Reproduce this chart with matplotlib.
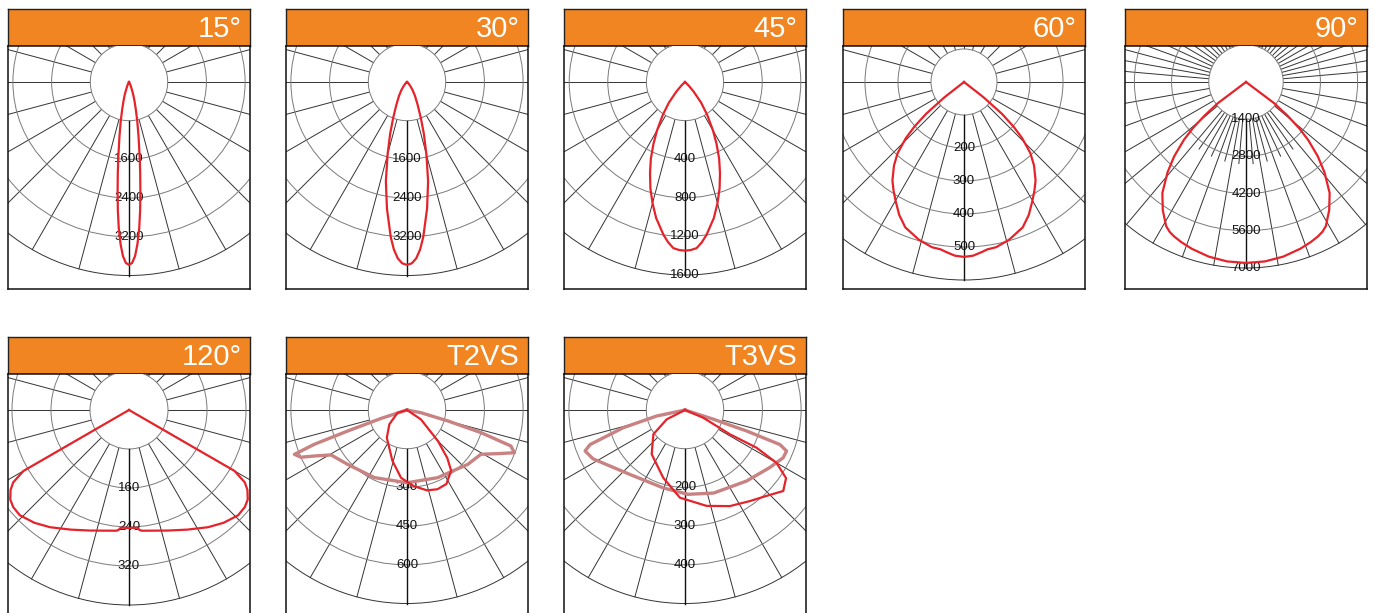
import numpy as np
import matplotlib.pyplot as plt
from matplotlib.patches import Circle

plt.rcParams['font.family'] = ['Liberation Sans', 'DejaVu Sans']

W, H = 1375, 613

# panel titles and grid setup (cd per ring, pixels per ring)
titles = ['15°', '30°', '45°', '60°', '90°', '120°', 'T2VS', 'T3VS']
steps = [800, 800, 400, 100, 1400, 80, 150, 100]
ring_px = [38.7, 38.7, 38.6, 33.0, 37.2, 39.0, 38.7, 38.7]
n_rings = [5, 5, 5, 6, 5, 5, 5, 5]
label_rings = [[2, 3, 4], [2, 3, 4], [2, 3, 4, 5], [2, 3, 4, 5],
               [1, 2, 3, 4, 5], [2, 3, 4], [2, 3, 4], [2, 3, 4]]
label_texts = [['1600', '2400', '3200'], ['1600', '2400', '3200'],
               ['400', '800', '1200', '1600'], ['200', '300', '400', '500'],
               ['1400', '2800', '4200', '5600', '7000'], ['160', '240', '320'],
               ['300', '450', '600'], ['200', '300', '400']]

# symmetric beams: angle from nadir (deg) and intensity (cd), one half
ang15 = [0, 1, 2, 3, 4, 5, 6, 7, 8, 10, 12, 14, 16, 18, 20, 25, 30, 40]
cd15 = [3780, 3740, 3600, 3350, 3030, 2650, 2250, 1900, 1600, 1130, 820, 580, 420,
        300, 200, 80, 30, 0]

ang30 = [0, 1.5, 3, 4.5, 6, 9, 12, 15, 18, 21, 25, 30, 35, 40, 50, 60]
cd30 = [3780, 3750, 3650, 3470, 3220, 2650, 2100, 1550, 1130, 800, 520, 330, 200,
        100, 30, 0]

ang45 = [0, 2, 4, 6, 8, 12, 15, 18, 21, 24, 27, 30, 34, 38, 42, 46, 50]
cd45 = [1748, 1742, 1726, 1670, 1600, 1440, 1300, 1160, 1012, 870, 720, 580, 412,
        270, 135, 50, 0]

ang60 = [0, 3, 6, 8, 11, 16, 22, 26, 30, 33, 36, 40, 43, 46, 48, 50, 52, 55]
cd60 = [530, 527, 518, 512, 510, 497, 475, 448, 415, 392, 369, 330, 295, 245, 202,
        150, 74, 0]

ang90 = [0, 6, 12, 18, 22, 25, 27, 29, 33, 37, 41, 44, 47, 49, 51, 53, 56]
cd90 = [6810, 6790, 6720, 6600, 6500, 6410, 6330, 6200, 5750, 5230, 4500, 3890, 3200,
        2655, 2000, 1330, 0]

ang120 = [0, 4, 5, 6, 12, 18, 26, 34, 40, 46, 50, 53, 56, 58, 60, 61]
cd120 = [242, 242, 247, 249, 253, 260, 273, 290, 302, 311, 310, 305, 293, 280, 250, 0]

# asymmetric distributions, full path (negative angle = left side)
t2_red_ang = [60, 56, 45, 40, 36, 28, 21, 14, 5, -5, -16, -36, -51, -74, -90]
t2_red_cd = [0, 65, 169, 243, 291, 325, 329, 321, 296, 264, 205, 133, 88, 38, 0]
t2_rose_ang = [-78, -72, -70.5, -69.7, -68.5, -66, -63.6, -59.4, -47.5, -25.8, 0, 24.4,
               48.2, 59.1, 64.3, 68.3, 70.9, 73, 75, 79, 85]
t2_rose_cd = [0, 106, 244, 383, 469, 450, 401, 342, 312, 291, 282, 288, 316, 334, 390,
              448, 426, 300, 164, 55, 0]

t3_red_ang = [90, 67, 61.6, 62.2, 60, 56, 50.5, 43.5, 35.5, 25, 12.7, -3.3, -17.8, -37,
              -52.5, -63, -90]
t3_red_cd = [0, 51, 132, 209, 273, 315, 329, 306, 289, 274, 254, 227, 184, 143, 103, 53, 0]
t3_rose_ang = [-82, -78, -74, -70, -67.7, -62, -40.5, -15.6, 2, 19, 41, 56, 64, 68, 70,
               71.2, 72, 76]
t3_rose_cd = [0, 75, 166, 261, 279, 269, 219, 209, 218, 227, 243, 265, 282, 283, 261,
              168, 77, 0]


def mirror(a, c):
    a = np.asarray(a, float)
    c = np.asarray(c, float)
    return np.r_[-a[::-1], a[1:]], np.r_[c[::-1], c[1:]]


red_curves = [mirror(ang15, cd15), mirror(ang30, cd30), mirror(ang45, cd45),
              mirror(ang60, cd60), mirror(ang90, cd90), mirror(ang120, cd120),
              (t2_red_ang, t2_red_cd), (t3_red_ang, t3_red_cd)]
rose_curves = [None] * 6 + [(t2_rose_ang, t2_rose_cd), (t3_rose_ang, t3_rose_cd)]

# panel placement in pixels
lefts = [8, 286, 564, 843, 1125, 8, 286, 564]
rows = [0, 0, 0, 0, 0, 1, 1, 1]
head_top = [9, 337]
head_bot = [46, 374]
box_bot = [289, 640]
pw = 242
cy = 36

RED = '#E5232A'
ROSE = '#C98282'
ORANGE = '#F08522'

fig = plt.figure(figsize=(W / 100, H / 100), dpi=100)


def fbox(x0, y0, x1, y1):
    return [x0 / W, 1 - y1 / H, (x1 - x0) / W, (y1 - y0) / H]


def xy(a, c):
    t = np.radians(np.asarray(a, float))
    c = np.asarray(c, float)
    return c * np.sin(t), -c * np.cos(t)


for i in range(8):
    r = rows[i]
    x0 = lefts[i]
    # header
    hax = fig.add_axes(fbox(x0, head_top[r], x0 + pw, head_bot[r]))
    hax.set_facecolor(ORANGE)
    hax.set_xticks([])
    hax.set_yticks([])
    for sp in hax.spines.values():
        sp.set_linewidth(1.0)
        sp.set_color('#222222')
    hax.text(0.965, 0.47, titles[i], transform=hax.transAxes, ha='right', va='center',
             color='white', fontsize=21)

    # polar box
    ax = fig.add_axes(fbox(x0, head_bot[r], x0 + pw, box_bot[r]))
    s = steps[i] / ring_px[i]
    bh = box_bot[r] - head_bot[r]
    ax.set_xlim(-pw / 2 * s, pw / 2 * s)
    ax.set_ylim(-(bh - cy) * s, cy * s)
    ax.set_xticks([])
    ax.set_yticks([])
    for sp in ax.spines.values():
        sp.set_linewidth(1.1)
        sp.set_color('#111111')

    st = steps[i]
    R = n_rings[i] * st
    # radial lines
    if titles[i] == '90°':
        full = list(range(10, 91, 10)) + list(range(95, 181, 5))
        short = [5, 15, 25, 35]
    else:
        full = list(range(15, 181, 15))
        short = []
    for a in full:
        for sgn in (-1, 1):
            lx, ly = xy([sgn * a, sgn * a], [0, R])
            ax.plot(lx, ly, color='#333333', lw=0.7, zorder=1)
    for a in short:
        for sgn in (-1, 1):
            lx, ly = xy([sgn * a, sgn * a], [0, 2.2 * st])
            ax.plot(lx, ly, color='#333333', lw=0.7, zorder=1)
    # rings
    for k in range(2, n_rings[i] + 1):
        col = '#333333' if k == n_rings[i] else '#7a7a7a'
        ax.add_patch(Circle((0, 0), k * st, fill=False, ec=col, lw=0.7, zorder=2))
    # hole
    ax.add_patch(Circle((0, 0), st, fc='white', ec='#7a7a7a', lw=0.7, zorder=3))
    # nadir line
    lx, ly = xy([0, 0], [st, R])
    ax.plot(lx, ly, color='#111111', lw=1.0, zorder=4)
    # ring labels
    for k, t in zip(label_rings[i], label_texts[i]):
        ax.text(0, -k * st, t, ha='center', va='center', fontsize=9.5,
                color='#111111', zorder=5)

    # curves
    if rose_curves[i] is not None:
        px, py = xy(*rose_curves[i])
        ax.plot(px, py, color=ROSE, lw=2.4, zorder=6, solid_joinstyle='round')
    px, py = xy(*red_curves[i])
    ax.plot(px, py, color=RED, lw=1.6, zorder=7, solid_joinstyle='round')

fig.savefig('out.png', dpi=100)
